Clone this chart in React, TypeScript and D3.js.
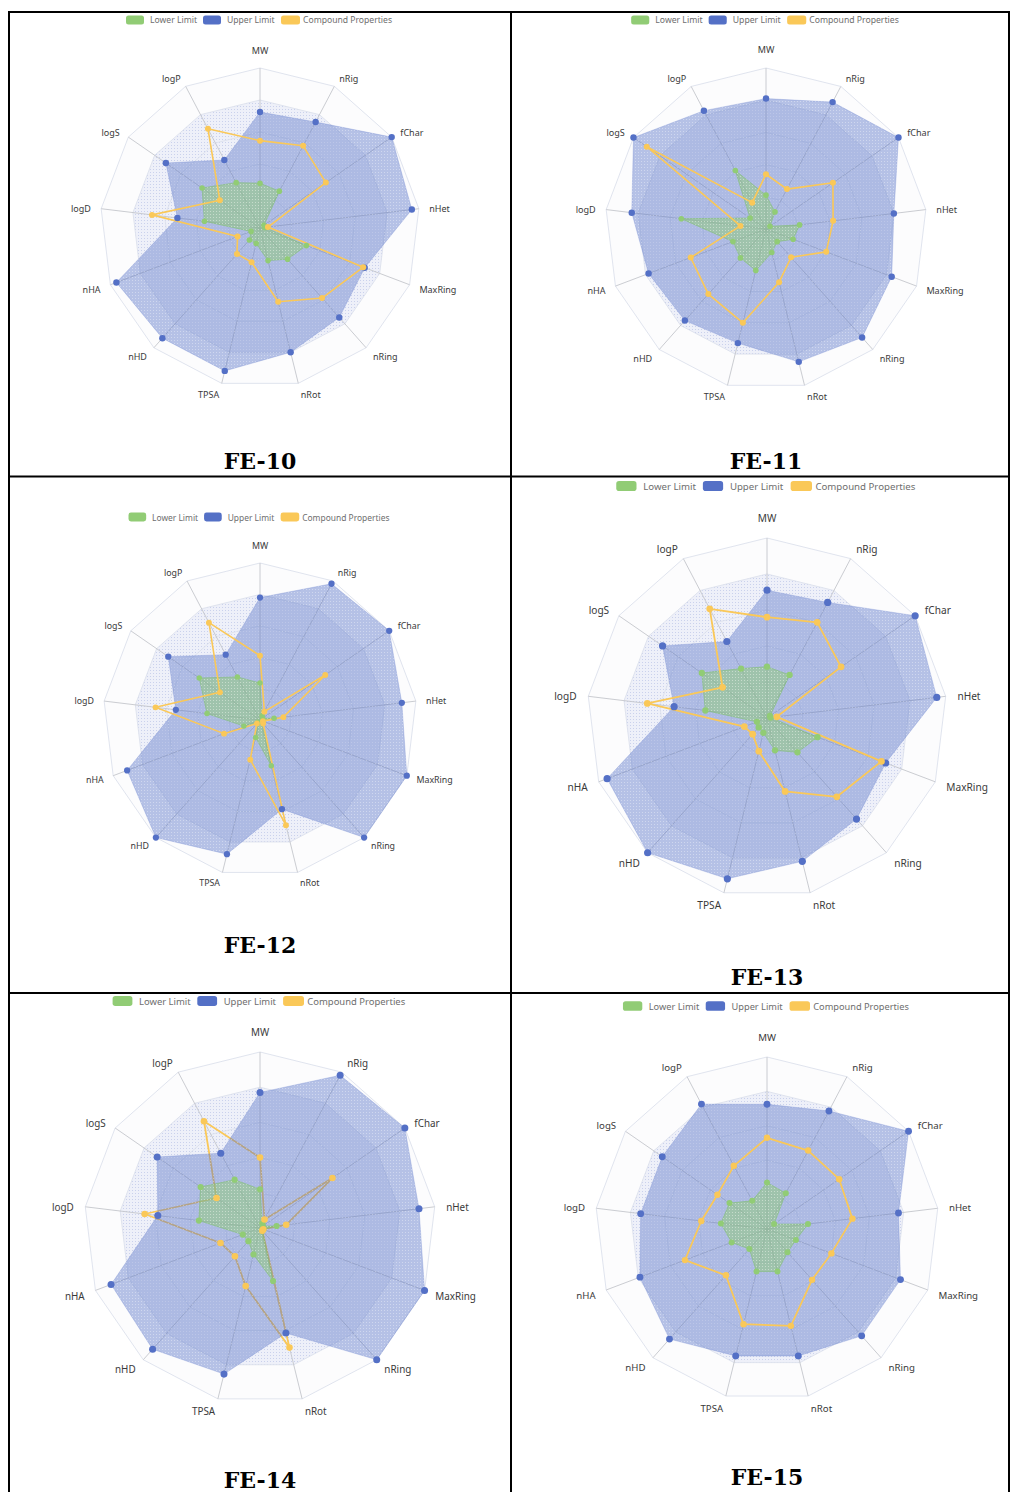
import React, { useEffect } from 'react';
import * as d3 from 'd3';

// ---------- DATA ----------
const indicators = ['MW', 'nRig', 'fChar', 'nHet', 'MaxRing', 'nRing', 'nRot', 'TPSA', 'nHD', 'nHA', 'logD', 'logS', 'logP'];
const seriesNames = ['Lower Limit', 'Upper Limit', 'Compound Properties'];
const compoundNames = ['FE-10', 'FE-11', 'FE-12', 'FE-13', 'FE-14', 'FE-15'];

// values as fraction of each indicator's max (0..1), in indicator order
const fe10Lower = [0.28, 0.26, 0.03, 0.03, 0.31, 0.26, 0.21, 0.10, 0.10, 0.06, 0.35, 0.44, 0.32];
const fe10Upper = [0.725, 0.748, 1.0, 0.956, 0.70, 0.747, 0.80, 0.92, 0.92, 0.96, 0.52, 0.715, 0.48];
const fe10Compound = [0.546, 0.58, 0.50, 0.05, 0.69, 0.585, 0.475, 0.22, 0.217, 0.15, 0.68, 0.305, 0.70];

const fe11Lower = [0.21, 0.12, 0.03, 0.21, 0.18, 0.105, 0.15, 0.265, 0.24, 0.22, 0.53, 0.12, 0.41];
const fe11Upper = [0.81, 0.89, 1.0, 0.80, 0.835, 0.90, 0.85, 0.73, 0.76, 0.78, 0.84, 1.0, 0.83];
const fe11Compound = [0.34, 0.28, 0.505, 0.42, 0.40, 0.235, 0.34, 0.60, 0.54, 0.50, 0.16, 0.90, 0.185];

const fe12Lower = [0.235, 0.03, 0.02, 0.09, 0.02, 0.02, 0.30, 0.115, 0.02, 0.11, 0.34, 0.47, 0.31];
const fe12Upper = [0.78, 0.98, 1.0, 0.91, 1.0, 1.0, 0.585, 0.88, 1.0, 0.905, 0.54, 0.71, 0.47];
const fe12Compound = [0.41, 0.06, 0.505, 0.15, 0.02, 0.03, 0.69, 0.26, 0.03, 0.245, 0.67, 0.31, 0.70];

const fe13Lower = [0.285, 0.27, 0.02, 0.02, 0.30, 0.255, 0.185, 0.085, 0.07, 0.06, 0.345, 0.44, 0.31];
const fe13Upper = [0.71, 0.725, 1.0, 0.95, 0.705, 0.75, 0.82, 0.92, 1.0, 0.95, 0.52, 0.705, 0.48];
const fe13Compound = [0.56, 0.60, 0.50, 0.055, 0.68, 0.585, 0.42, 0.19, 0.12, 0.135, 0.67, 0.30, 0.685];

const fe14Lower = [0.22, 0.03, 0.02, 0.095, 0.02, 0.02, 0.31, 0.155, 0.10, 0.105, 0.35, 0.41, 0.31];
const fe14Upper = [0.77, 0.98, 1.0, 0.91, 1.0, 1.0, 0.615, 0.855, 0.92, 0.905, 0.585, 0.71, 0.48];
const fe14Compound = [0.40, 0.055, 0.50, 0.15, 0.02, 0.02, 0.70, 0.34, 0.215, 0.24, 0.66, 0.30, 0.685];

const fe15Lower = [0.27, 0.235, 0.05, 0.24, 0.18, 0.18, 0.255, 0.255, 0.155, 0.22, 0.27, 0.265, 0.185];
const fe15Upper = [0.725, 0.775, 1.0, 0.77, 0.83, 0.83, 0.76, 0.76, 0.855, 0.79, 0.74, 0.74, 0.82];
const fe15Compound = [0.53, 0.515, 0.51, 0.50, 0.40, 0.395, 0.58, 0.57, 0.36, 0.51, 0.385, 0.35, 0.415];

// ---------- STYLE / LAYOUT ----------
const colors = ['#91cc75', '#5470c6', '#fac858'];
const W = 1010;
const H = 1492;

const panels = [
  { title: compoundNames[0], lower: fe10Lower, upper: fe10Upper, comp: fe10Compound, cx: 260, cy: 228, R: 160, legendY: 20, titleY: 469, lineBelow: false },
  { title: compoundNames[1], lower: fe11Lower, upper: fe11Upper, comp: fe11Compound, cx: 766, cy: 229, R: 161, legendY: 20, titleY: 469, lineBelow: false },
  { title: compoundNames[2], lower: fe12Lower, upper: fe12Upper, comp: fe12Compound, cx: 260, cy: 720, R: 157, legendY: 517, titleY: 953, lineBelow: false },
  { title: compoundNames[3], lower: fe13Lower, upper: fe13Upper, comp: fe13Compound, cx: 767, cy: 718, R: 180, legendY: 486, titleY: 985, lineBelow: false },
  { title: compoundNames[4], lower: fe14Lower, upper: fe14Upper, comp: fe14Compound, cx: 260, cy: 1228, R: 176, legendY: 1001, titleY: 1488, lineBelow: true },
  { title: compoundNames[5], lower: fe15Lower, upper: fe15Upper, comp: fe15Compound, cx: 767, cy: 1229, R: 172, legendY: 1006, titleY: 1485, lineBelow: false },
];

// legend item offsets relative to panel centre at base scale
const legendLayout = [
  { r0: -134, r1: -116, t: -110 },
  { r0: -57, r1: -39, t: -33 },
  { r0: 21, r1: 40, t: 43 },
];

function Radar({ p }: { p: any }) {
  const s = p.R / 160;
  const n = indicators.length;
  const angle = d3.scaleLinear().domain([0, n]).range([0, 2 * Math.PI]);
  const r = d3.scaleLinear().domain([0, 1]).range([0, p.R]);
  const line = d3
    .lineRadial<number>()
    .angle((_, i) => angle(i))
    .radius((d) => r(d))
    .curve(d3.curveLinearClosed);
  const ring = (v: number) => line(indicators.map(() => v)) as string;
  const levels = d3.range(1, 6).map((k) => k / 5);

  const upperPath = line(p.upper) as string;
  const lowerPath = line(p.lower) as string;
  const compPath = line(p.comp) as string;

  const dots = (vals: number[], color: string, rad: number) =>
    vals.map((v, i) => {
      const [x, y] = d3.pointRadial(angle(i), r(v));
      return <circle key={i} cx={x} cy={y} r={rad} fill={color} />;
    });

  const compLine = (
    <path d={compPath} fill="none" stroke={colors[2]} strokeWidth={1.6 * s} strokeLinejoin="round" />
  );

  return (
    <g>
      {/* legend */}
      <g transform={`translate(${p.cx},${p.legendY})`}>
        {seriesNames.map((nm, k) => (
          <g key={nm}>
            <rect
              x={legendLayout[k].r0 * s}
              y={-4.5 * s}
              width={(legendLayout[k].r1 - legendLayout[k].r0) * s}
              height={9 * s}
              rx={2.5 * s}
              fill={colors[k]}
            />
            <text
              x={legendLayout[k].t * s}
              y={0}
              dominantBaseline="central"
              fontSize={8.6 * s}
              fill="#6e6e6e"
              fontFamily="'Noto Sans', 'Open Sans', sans-serif"
            >
              {nm}
            </text>
          </g>
        ))}
      </g>

      <g transform={`translate(${p.cx},${p.cy})`}>
        {/* split areas */}
        <path d={ring(1) + ring(0.8)} fill="#fcfcfd" fillRule="evenodd" />
        <path d={ring(0.8)} fill="rgba(205,212,238,0.35)" />
        <path d={ring(0.8)} fill="url(#bluedots)" />
        {/* split lines */}
        {levels.map((v) => (
          <path key={v} d={ring(v)} fill="none" stroke="#dde1ec" strokeWidth={0.9} />
        ))}
        {/* axis lines */}
        {indicators.map((_, i) => {
          const [x, y] = d3.pointRadial(angle(i), p.R);
          return <line key={i} x1={0} y1={0} x2={x} y2={y} stroke="#c4c6cc" strokeWidth={0.9} />;
        })}
        {p.lineBelow && compLine}
        {/* upper area */}
        <path d={upperPath} fill="rgba(84,112,198,0.42)" stroke="rgba(84,112,198,0.25)" strokeWidth={1} />
        <path d={upperPath} fill="url(#whitedots)" />
        {/* lower area */}
        <path d={lowerPath} fill="rgba(145,204,117,0.5)" stroke="rgba(120,190,100,0.6)" strokeWidth={0.8} />
        <path d={lowerPath} fill="url(#whitedots)" />
        {!p.lineBelow && compLine}
        {dots(p.upper, colors[1], 3.2 * s)}
        {dots(p.lower, colors[0], 2.8 * s)}
        {dots(p.comp, colors[2], 3 * s)}
        {/* axis names */}
        {indicators.map((nm, i) => {
          const [x, y] = d3.pointRadial(angle(i), p.R + 10.5 * s);
          const ax = x / (p.R + 10.5 * s);
          const anchor = Math.abs(ax) < 0.05 ? 'middle' : ax > 0 ? 'start' : 'end';
          const top = i === 0;
          return (
            <text
              key={nm}
              x={x}
              y={top ? y - 4 * s : y + 1 * s}
              textAnchor={anchor}
              dominantBaseline={top ? 'auto' : 'central'}
              fontSize={9 * s}
              fill="#3a3a3a"
              fontFamily="'Noto Sans', 'Open Sans', sans-serif"
            >
              {nm}
            </text>
          );
        })}
      </g>

      {/* title */}
      <text
        x={p.cx}
        y={p.titleY}
        textAnchor="middle"
        fontSize={22}
        fontWeight="bold"
        fill="#000"
        fontFamily="'DejaVu Serif', 'Liberation Serif', serif"
      >
        {p.title}
      </text>
    </g>
  );
}

export default function App() {
  useEffect(() => {
    document.body.style.margin = '0';
  }, []);
  return (
    <svg width={W} height={H} viewBox={`0 0 ${W} ${H}`} style={{ display: 'block', background: '#fff' }}>
      <defs>
        <pattern id="whitedots" width="3" height="3" patternUnits="userSpaceOnUse">
          <rect x="1" y="1" width="1" height="1" fill="#ffffff" fillOpacity="0.35" />
        </pattern>
        <pattern id="bluedots" width="3" height="3" patternUnits="userSpaceOnUse">
          <rect x="1" y="1" width="1" height="1" fill="#9eabdc" fillOpacity="0.45" />
        </pattern>
      </defs>
      <rect x={0} y={0} width={W} height={H} fill="#fff" />
      {panels.map((p) => (
        <Radar key={p.title} p={p} />
      ))}
      {/* grid borders */}
      <g stroke="#000" strokeWidth={2}>
        <line x1={8} y1={12} x2={1010} y2={12} />
        <line x1={8} y1={476.5} x2={1010} y2={476.5} />
        <line x1={8} y1={993} x2={1010} y2={993} />
        <line x1={9} y1={11} x2={9} y2={1492} />
        <line x1={511} y1={11} x2={511} y2={1492} />
        <line x1={1009} y1={11} x2={1009} y2={1492} />
      </g>
    </svg>
  );
}
